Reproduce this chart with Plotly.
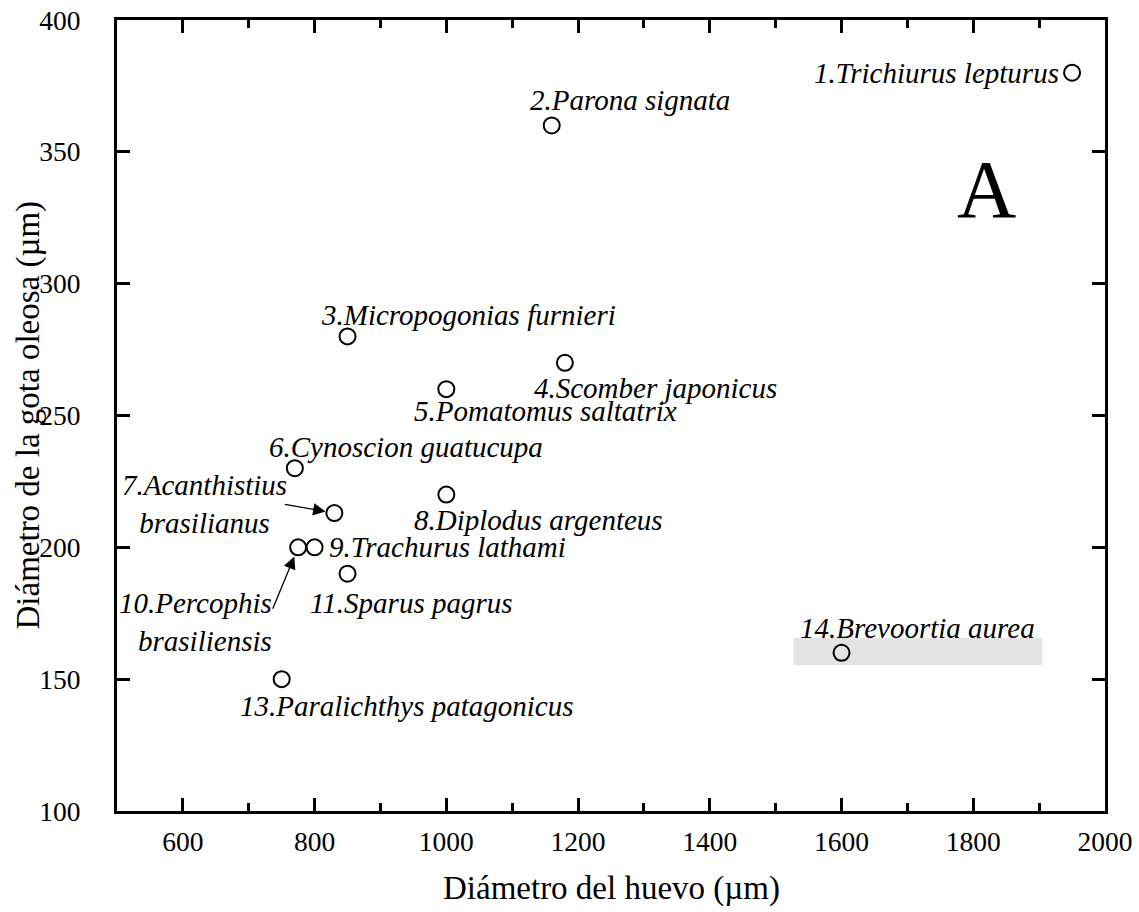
import plotly.graph_objects as go

# Egg diameter vs. oil-globule diameter for 13 species
species = [
    "1.Trichiurus lepturus",
    "2.Parona signata",
    "3.Micropogonias furnieri",
    "4.Scomber japonicus",
    "5.Pomatomus saltatrix",
    "6.Cynoscion guatucupa",
    "7.Acanthistius<br>brasilianus",
    "8.Diplodus argenteus",
    "9.Trachurus lathami",
    "10.Percophis<br>brasiliensis",
    "11.Sparus pagrus",
    "13.Paralichthys patagonicus",
    "14.Brevoortia aurea",
]
egg_diameter = [1950, 1160, 850, 1180, 1000, 770, 830, 1000, 800, 775, 850, 750, 1600]
oil_diameter = [380, 360, 280, 270, 260, 230, 213, 220, 200, 200, 190, 150, 160]

x_ticks = [600, 800, 1000, 1200, 1400, 1600, 1800, 2000]
y_ticks = [100, 150, 200, 250, 300, 350, 400]

FONT = "Liberation Serif, Times New Roman, serif"

# label placement relative to each point: (xanchor, xshift px, yshift px, align)
label_place = [
    ("right", -11, 0, "left"),
    ("left", -24, 25, "left"),
    ("left", -29, 21, "left"),
    ("left", -33, -25, "left"),
    ("left", -34, -22, "left"),
    ("left", -28, 21, "left"),
    ("center", -130, 9, "center"),
    ("left", -34, -25, "left"),
    ("left", 12, 0, "left"),
    ("right", -24, -75, "right"),
    ("left", -40, -29, "left"),
    ("left", -44, -27, "left"),
    ("left", -44, 25, "left"),
]

fig = go.Figure()

# shaded background behind the Brevoortia label
fig.add_shape(
    type="rect", xref="x", yref="y",
    x0=1527, x1=1905, y0=155.4, y1=165.6,
    fillcolor="#e4e4e4", line=dict(width=0), layer="below",
)

fig.add_trace(go.Scatter(
    x=egg_diameter, y=oil_diameter, mode="markers",
    marker=dict(symbol="circle-open", size=16, color="black",
                line=dict(width=2, color="black")),
    showlegend=False, hoverinfo="skip",
))

for name, xv, yv, (xa, xs, ys, al) in zip(species, egg_diameter, oil_diameter, label_place):
    fig.add_annotation(
        x=xv, y=yv, xref="x", yref="y", text=f"<i>{name}</i>",
        showarrow=False, xanchor=xa, yanchor="middle",
        xshift=xs, yshift=ys, align=al,
        font=dict(family=FONT, size=29, color="black"),
    )

# pointer arrows for the two stacked labels
fig.add_annotation(
    x=egg_diameter[6], y=oil_diameter[6], xref="x", yref="y", text="",
    showarrow=True, ax=-51, ay=-9, arrowhead=2, arrowsize=1.9,
    arrowwidth=1.3, arrowcolor="black", standoff=9,
)
fig.add_annotation(
    x=egg_diameter[9], y=oil_diameter[9], xref="x", yref="y", text="",
    showarrow=True, ax=-26, ay=63, arrowhead=2, arrowsize=1.9,
    arrowwidth=1.3, arrowcolor="black", standoff=10,
)

# panel letter
fig.add_annotation(
    x=0.880, y=0.786, xref="paper", yref="paper", text="A",
    showarrow=False, xanchor="center", yanchor="middle",
    font=dict(family=FONT, size=82, color="black"),
)

# axis titles
fig.add_annotation(
    x=0.5, y=0, xref="paper", yref="paper", yshift=-77,
    text="Diámetro del huevo (µm)", showarrow=False,
    xanchor="center", yanchor="middle",
    font=dict(family=FONT, size=33, color="black"),
)
fig.add_annotation(
    x=0, y=0.5, xref="paper", yref="paper", xshift=-89,
    text="Diámetro de la gota oleosa (µm)", showarrow=False, textangle=-90,
    xanchor="center", yanchor="middle",
    font=dict(family=FONT, size=33, color="black"),
)

axis_common = dict(
    showline=True, linewidth=3, linecolor="black", mirror="allticks",
    ticks="inside", tickwidth=3, tickcolor="black", showgrid=False,
    zeroline=False, automargin=False,
    tickfont=dict(family=FONT, size=27.5, color="black"),
)

fig.update_xaxes(
    range=[500, 2000], tickvals=x_ticks, ticklen=13,
    minor=dict(dtick=100, tick0=500, ticks="inside", ticklen=8,
               tickwidth=3, tickcolor="black", showgrid=False),
    ticklabelstandoff=4,
    **axis_common,
)
fig.update_yaxes(
    range=[100, 400], tickvals=y_ticks, ticklen=13,
    ticklabelstandoff=28,
    **axis_common,
)

fig.update_layout(
    width=1139, height=912,
    margin=dict(l=117, r=34, t=20, b=101),
    plot_bgcolor="white", paper_bgcolor="white",
    font=dict(family=FONT, color="black"),
)

fig.write_html("out.html")
